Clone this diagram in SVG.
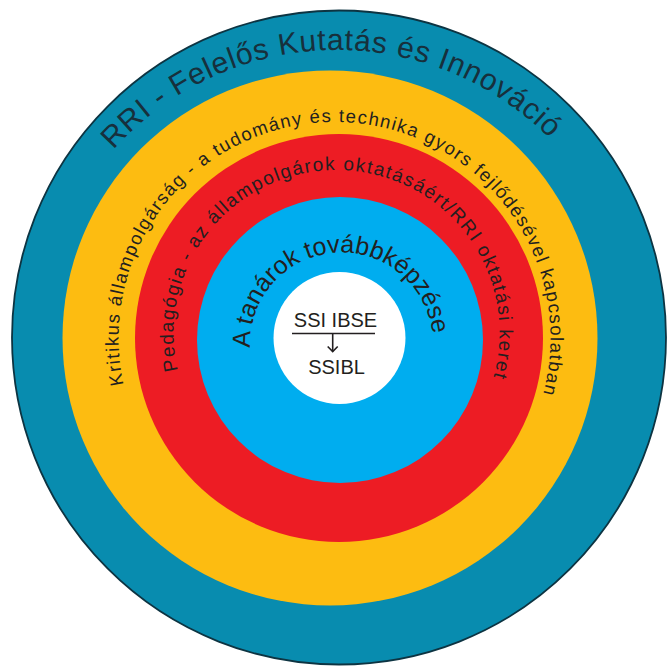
<svg xmlns="http://www.w3.org/2000/svg" width="668" height="668" viewBox="0 0 668 668">
  <defs>
    <style>
      .lbl { font-family: "Liberation Sans", Arial, sans-serif; fill: #231f20; }
      .ring { stroke: none; }
      .conn { stroke: #231f20; stroke-width: 1.6; fill: none; }
    </style>
    <!-- text circles: start at bottom, go clockwise (bottom, left, top, right) -->
    <path id="p-rri" d="M337,650 A300,300 0 1 1 337,50 A300,300 0 1 1 337,650"/>
    <path id="p-krit" d="M334.5,554 A216,216 0 1 1 334.5,122 A216,216 0 1 1 334.5,554"/>
    <path id="p-ped" d="M336.5,496 A163,163 0 1 1 336.5,170 A163,163 0 1 1 336.5,496"/>
    <path id="p-tan" d="M341.5,435.5 A91.5,91.5 0 1 1 341.5,252.5 A91.5,91.5 0 1 1 341.5,435.5"/>
  </defs>
  <rect width="668" height="668" fill="#ffffff"/>

  <g id="rri">
    <circle class="ring" cx="339" cy="337.5" r="327" fill="#088caf" style="stroke:#0d3442;stroke-width:1.8"/>
    <text class="lbl" font-size="30" letter-spacing="0.8" text-anchor="middle" style="fill:#17303c"><textPath href="#p-rri" startOffset="49.6%">RRI - Felelős Kutatás és Innováció</textPath></text>
  </g>

  <g id="kritikus">
    <circle class="ring" cx="330" cy="338" r="267.5" fill="#fdbc11"/>
  </g>

  <g id="pedagogia">
    <circle class="ring" cx="339" cy="338" r="204" fill="#ed1c24"/>
  </g>

  <g id="tanarok">
    <circle class="ring" cx="340" cy="340" r="143" fill="#00adef"/>
  </g>

  <g id="kritikus-label">
    <text class="lbl" font-size="18.5" letter-spacing="1.4" text-anchor="middle"><textPath href="#p-krit" startOffset="50.4%">Kritikus állampolgárság - a tudomány és technika gyors fejlődésével kapcsolatban</textPath></text>
  </g>

  <g id="pedagogia-label">
    <text class="lbl" font-size="19" letter-spacing="1.5" text-anchor="middle"><textPath href="#p-ped" startOffset="50.4%">Pedagógia - az állampolgárok oktatásáért/RRI oktatási keret</textPath></text>
  </g>

  <g id="tanarok-label">
    <text class="lbl" font-size="25" text-anchor="middle"><textPath href="#p-tan" startOffset="48.8%">A tanárok továbbképzése</textPath></text>
  </g>

  <g id="ssi">
    <circle cx="339.5" cy="338" r="66" fill="#ffffff"/>
    <text class="lbl" x="335.5" y="327" font-size="20" text-anchor="middle">SSI IBSE</text>
    <text class="lbl" x="336.5" y="374" font-size="20" text-anchor="middle">SSIBL</text>
  </g>

  <g id="connectors">
    <line class="conn" x1="292" y1="333.5" x2="375" y2="333.5"/>
    <line class="conn" x1="332.7" y1="333.5" x2="332.7" y2="351.5"/>
    <polyline class="conn" points="327.7,346.5 332.7,351.5 337.7,346.5"/>
  </g>
</svg>
